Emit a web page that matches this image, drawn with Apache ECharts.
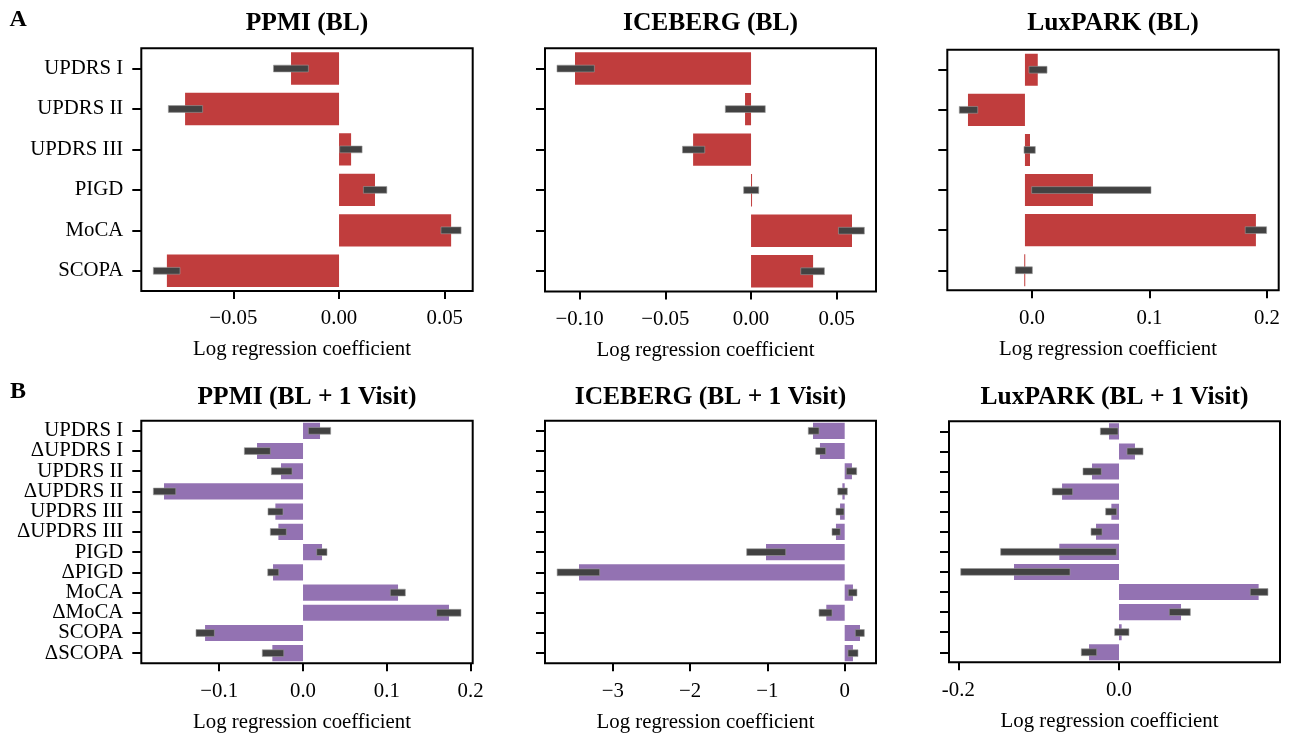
<!DOCTYPE html>
<html>
<head>
<meta charset="utf-8">
<script src="https://cdn.jsdelivr.net/npm/echarts@6/dist/echarts.min.js"></script>
<style>
html,body{margin:0;padding:0;background:#fff;}
#chart{width:1289px;height:733px;}
</style>
</head>
<body>
<div id="chart"></div>
<script>
// ---------- categories ----------
const catsBL = ['UPDRS I', 'UPDRS II', 'UPDRS III', 'PIGD', 'MoCA', 'SCOPA'];
const catsV1 = ['UPDRS I', 'ΔUPDRS I', 'UPDRS II', 'ΔUPDRS II', 'UPDRS III', 'ΔUPDRS III',
                'PIGD', 'ΔPIGD', 'MoCA', 'ΔMoCA', 'SCOPA', 'ΔSCOPA'];

// ---------- A: baseline ----------
const ppmiBL    = [-0.0227, -0.0728, 0.0057, 0.0170, 0.0530, -0.0814];
const ppmiBLLo  = [-0.0310, -0.0807, 0.0003, 0.0115, 0.0482, -0.0878];
const ppmiBLHi  = [-0.0145, -0.0645, 0.0109, 0.0226, 0.0577, -0.0752];

const iceBL     = [-0.1027, -0.0035, -0.0338, 0.0005, 0.0589, 0.0362];
const iceBLLo   = [-0.1132, -0.0150, -0.0400, -0.0043, 0.0510, 0.0290];
const iceBLHi   = [-0.0914, 0.0083, -0.0270, 0.0045, 0.0661, 0.0428];

const luxBLBase = -0.0060;
const luxBL     = [0.0049, -0.0545, -0.0017, 0.0519, 0.1906, -0.0066];
const luxBLLo   = [-0.0026, -0.0619, -0.0068, -0.0003, 0.1815, -0.0142];
const luxBLHi   = [0.0128, -0.0462, 0.0028, 0.1013, 0.1997, 0.0003];

// ---------- B: baseline + 1 visit ----------
const ppmiV1    = [0.0203, -0.0549, -0.0263, -0.1659, -0.0330, -0.0294, 0.0227, -0.0358, 0.1134, 0.1742, -0.1169, -0.0366];
const ppmiV1Lo  = [0.0064, -0.0700, -0.0378, -0.1786, -0.0418, -0.0390, 0.0163, -0.0421, 0.1042, 0.1595, -0.1277, -0.0486];
const ppmiV1Hi  = [0.0330, -0.0390, -0.0131, -0.1519, -0.0239, -0.0199, 0.0286, -0.0290, 0.1221, 0.1885, -0.1058, -0.0230];

const iceV1     = [-0.410, -0.320, 0.094, -0.030, -0.060, -0.113, -1.018, -3.437, 0.107, -0.238, 0.198, 0.107];
const iceV1Lo   = [-0.471, -0.375, 0.021, -0.090, -0.113, -0.164, -1.268, -3.720, 0.047, -0.332, 0.137, 0.043];
const iceV1Hi   = [-0.332, -0.246, 0.155, 0.034, -0.009, -0.057, -0.763, -3.170, 0.159, -0.164, 0.254, 0.172];

const luxV1     = [-0.0124, 0.0199, -0.0336, -0.0709, -0.0095, -0.0286, -0.0743, -0.1307, 0.1738, 0.0772, 0.0033, -0.0373];
const luxV1Lo   = [-0.0232, 0.0100, -0.0448, -0.0830, -0.0166, -0.0348, -0.1473, -0.1970, 0.1634, 0.0626, -0.0054, -0.0469];
const luxV1Hi   = [-0.0012, 0.0299, -0.0220, -0.0577, -0.0029, -0.0211, -0.0033, -0.0610, 0.1854, 0.0888, 0.0124, -0.0278];

// ---------- ticks ----------
const ticksPpmiBL = [-0.05, 0, 0.05];       const labelsPpmiBL = ['−0.05', '0.00', '0.05'];
const ticksIceBL  = [-0.10, -0.05, 0, 0.05]; const labelsIceBL  = ['−0.10', '−0.05', '0.00', '0.05'];
const ticksLuxBL  = [0, 0.1, 0.2];          const labelsLuxBL  = ['0.0', '0.1', '0.2'];
const ticksPpmiV1 = [-0.1, 0, 0.1, 0.2];    const labelsPpmiV1 = ['−0.1', '0.0', '0.1', '0.2'];
const ticksIceV1  = [-3, -2, -1, 0];        const labelsIceV1  = ['−3', '−2', '−1', '0'];
const ticksLuxV1  = [-0.2, 0];              const labelsLuxV1  = ['-0.2', '0.0'];

const RED = '#c03d3d';
const PURPLE = '#9372b2';
const ERR = '#424242';
const FONT = '"Liberation Serif", "Times New Roman", serif';

const panels = [
  {title: 'PPMI (BL)', cats: catsBL, v: ppmiBL, lo: ppmiBLLo, hi: ppmiBLHi, base: 0, color: RED,
   grid: {left: 141.3, top: 48.3, width: 331.4, height: 242.7}, min: -0.0935, max: 0.0632,
   ticks: ticksPpmiBL, labels: labelsPpmiBL, showY: true},
  {title: 'ICEBERG (BL)', cats: catsBL, v: iceBL, lo: iceBLLo, hi: iceBLHi, base: 0, color: RED,
   grid: {left: 545, top: 48.3, width: 331, height: 243.2}, min: -0.1202, max: 0.0729,
   ticks: ticksIceBL, labels: labelsIceBL, showY: false},
  {title: 'LuxPARK (BL)', cats: catsBL, v: luxBL, lo: luxBLLo, hi: luxBLHi, base: luxBLBase, color: RED,
   grid: {left: 947.3, top: 49.7, width: 331.4, height: 240.6}, min: -0.0721, max: 0.2100,
   ticks: ticksLuxBL, labels: labelsLuxBL, showY: false},
  {title: 'PPMI (BL + 1 Visit)', cats: catsV1, v: ppmiV1, lo: ppmiV1Lo, hi: ppmiV1Hi, base: 0, color: PURPLE,
   grid: {left: 141.3, top: 420.7, width: 331.4, height: 242.6}, min: -0.193, max: 0.2025,
   ticks: ticksPpmiV1, labels: labelsPpmiV1, showY: true},
  {title: 'ICEBERG (BL + 1 Visit)', cats: catsV1, v: iceV1, lo: iceV1Lo, hi: iceV1Hi, base: 0, color: PURPLE,
   grid: {left: 545, top: 420.7, width: 331, height: 242.6}, min: -3.877, max: 0.405,
   ticks: ticksIceV1, labels: labelsIceV1, showY: false},
  {title: 'LuxPARK (BL + 1 Visit)', cats: catsV1, v: luxV1, lo: luxV1Lo, hi: luxV1Hi, base: 0, color: PURPLE,
   grid: {left: 949, top: 421.3, width: 331, height: 241}, min: -0.2116, max: 0.2004,
   ticks: ticksLuxV1, labels: labelsLuxV1, showY: false}
];

const grids = [], xAxes = [], yAxes = [], series = [], titles = [];

panels.forEach((p, i) => {
  grids.push(Object.assign({show: true, borderColor: '#000', borderWidth: 2, backgroundColor: 'transparent',
                            outerBoundsMode: 'none', containLabel: false}, p.grid));
  xAxes.push({
    type: 'value', gridIndex: i, min: p.min, max: p.max, position: 'bottom',
    splitLine: {show: false},
    axisLine: {show: false, onZero: false},
    axisTick: {show: true, length: 8, lineStyle: {color: '#000', width: 2}, customValues: p.ticks},
    axisLabel: {
      show: true, margin: 17.5, color: '#000', fontFamily: FONT, fontSize: 20.8,
      customValues: p.ticks,
      formatter: function (val) {
        let best = 0, bd = Infinity;
        p.ticks.forEach((t, k) => { const d = Math.abs(t - val); if (d < bd) { bd = d; best = k; } });
        return p.labels[best];
      }
    },
    name: 'Log regression coefficient', nameLocation: 'middle', nameGap: 48.5,
    nameTextStyle: {color: '#000', fontFamily: FONT, fontSize: 20.8, padding: [0, 10, 0, 0]}
  });
  yAxes.push({
    type: 'category', gridIndex: i, data: p.cats, inverse: true, boundaryGap: true, position: 'left',
    axisLine: {show: false, onZero: false},
    splitLine: {show: false},
    axisTick: {show: true, alignWithLabel: true, length: 9, lineStyle: {color: '#000', width: 2}},
    axisLabel: {show: p.showY, margin: 18, color: '#000', fontFamily: FONT, fontSize: 20.8, interval: 0}
  });
  const data = p.v.map((val, k) => [k, val, p.lo[k], p.hi[k], p.base]);
  const color = p.color;
  series.push({
    type: 'custom', xAxisIndex: i, yAxisIndex: i,
    encode: {y: 0, x: [1, 2, 3, 4]},
    data: data,
    clip: true,
    renderItem: function (params, api) {
      const cat = api.value(0);
      const v = api.value(1), lo = api.value(2), hi = api.value(3), base = api.value(4);
      const b0 = api.coord([base, cat]);
      const b1 = api.coord([v, cat]);
      const band = api.size([0, 1])[1];
      const h = band * 0.8;
      const e0 = api.coord([lo, cat]);
      const e1 = api.coord([hi, cat]);
      const x0 = Math.min(b0[0], b1[0]);
      const w = Math.max(Math.abs(b1[0] - b0[0]), 1);
      return {
        type: 'group',
        children: [
          {type: 'rect', shape: {x: x0, y: b0[1] - h / 2, width: w, height: h}, style: {fill: color}},
          {type: 'rect', shape: {x: e0[0], y: b0[1] - 3.4, width: e1[0] - e0[0], height: 6.8},
           style: {fill: ERR, stroke: '#9a9a9a', lineWidth: 0.6}}
        ]
      };
    }
  });
  titles.push({
    text: p.title, left: p.grid.left + p.grid.width / 2, top: i < 3 ? 10.4 : 384.7, textAlign: 'center',
    padding: 0,
    textStyle: {fontFamily: FONT, fontWeight: 'bold', fontSize: 25.5, color: '#000'}
  });
});

titles.push({text: 'A', left: 9.5, top: 7.3, padding: 0,
             textStyle: {fontFamily: FONT, fontWeight: 'bold', fontSize: 24, color: '#000'}});
titles.push({text: 'B', left: 10, top: 380, padding: 0,
             textStyle: {fontFamily: FONT, fontWeight: 'bold', fontSize: 24, color: '#000'}});

const chart = echarts.init(document.getElementById('chart'), null, {renderer: 'canvas'});
chart.setOption({
  backgroundColor: '#fff',
  animation: false,
  title: titles,
  grid: grids,
  xAxis: xAxes,
  yAxis: yAxes,
  series: series
});
</script>
</body>
</html>
